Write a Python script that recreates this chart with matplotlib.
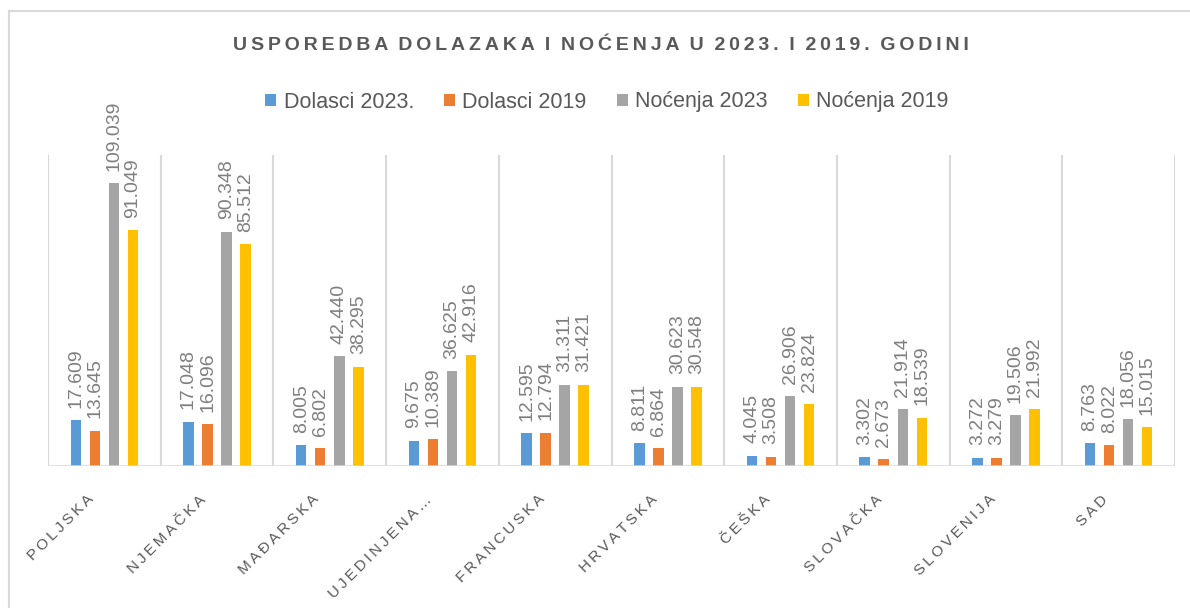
import matplotlib
matplotlib.use("Agg")
import matplotlib.pyplot as plt
import matplotlib.transforms as mtransforms
import numpy as np

# podaci (u tisućama)
drzave = ["POLJSKA", "NJEMAČKA", "MAĐARSKA", "UJEDINJENA…", "FRANCUSKA",
          "HRVATSKA", "ČEŠKA", "SLOVAČKA", "SLOVENIJA", "SAD"]
dolasci_2023 = [17.609, 17.048, 8.005, 9.675, 12.595, 8.811, 4.045, 3.302, 3.272, 8.763]
dolasci_2019 = [13.645, 16.096, 6.802, 10.389, 12.794, 6.864, 3.508, 2.673, 3.279, 8.022]
nocenja_2023 = [109.039, 90.348, 42.440, 36.625, 31.311, 30.623, 26.906, 21.914, 19.506, 18.056]
nocenja_2019 = [91.049, 85.512, 38.295, 42.916, 31.421, 30.548, 23.824, 18.539, 21.992, 15.015]

serije = [dolasci_2023, dolasci_2019, nocenja_2023, nocenja_2019]
nazivi = ["Dolasci 2023.", "Dolasci 2019", "Noćenja 2023", "Noćenja 2019"]
boje = ["#5B9BD5", "#ED7D31", "#A5A5A5", "#FFC000"]

siva = "#595959"
mreza = "#D9D9D9"
font = "Liberation Sans"


def razmak(tekst, sep="\u2009"):
    # razmak izmedu slova kao u Excelu
    return "  ".join(sep.join(rijec) for rijec in tekst.split(" "))


fig = plt.figure(figsize=(11.9, 6.08), dpi=100)
ax = fig.add_axes([48 / 1190, 1 - 466 / 608, 1127 / 1190, 311 / 608])

x = np.arange(len(drzave))
korak = 0.169
sirina = 0.093
for k, (vrijednosti, naziv, boja) in enumerate(zip(serije, nazivi, boje)):
    pos = x + (k - 1.5) * korak
    ax.bar(pos, vrijednosti, width=sirina, color=boja, label=naziv, zorder=3)
    for px, v in zip(pos, vrijednosti):
        ax.annotate(f"{v:.3f}", (px, v), xytext=(0, 9), textcoords="offset points",
                    rotation=90, ha="center", va="bottom", fontsize=14,
                    color="#7F7F7F", family=font, annotation_clip=False)

ax.set_xlim(-0.5, len(drzave) - 0.5)
ax.set_ylim(0, 120)
for g in np.arange(-0.5, len(drzave), 1):
    ax.axvline(g, color=mreza, linewidth=1.5, zorder=1)
ax.axhline(0, color=mreza, linewidth=1.8, zorder=4)
for s in ax.spines.values():
    s.set_visible(False)
ax.set_yticks([])
ax.set_xticks(x)
ax.set_xticklabels([razmak(d) for d in drzave], rotation=45, ha="right",
                   rotation_mode="anchor", fontsize=11, color=siva, family=font)
ax.tick_params(axis="x", length=0, pad=19)
pomak = mtransforms.ScaledTranslation(-18 / 100, 0, fig.dpi_scale_trans)
for lbl in ax.get_xticklabels():
    lbl.set_transform(lbl.get_transform() + pomak)

fig.text(0.505, 1 - 46 / 608, razmak("USPOREDBA DOLAZAKA I NOĆENJA U 2023. I 2019. GODINI"),
         ha="center", va="center", fontsize=14, fontweight="bold", color=siva, family=font)

leg = fig.legend(loc="center", bbox_to_anchor=(0.51, 1 - 102 / 608), ncol=4, frameon=False,
                 handlelength=0.5, handleheight=0.5, handletextpad=0.35,
                 columnspacing=1.4, prop={"family": font, "size": 15.5})
for t in leg.get_texts():
    t.set_color(siva)

# okvir grafikona
fig.add_artist(plt.Line2D([9 / 1190, 9 / 1190], [0, 1 - 11 / 608], transform=fig.transFigure,
                          color=mreza, linewidth=1.5))
fig.add_artist(plt.Line2D([9 / 1190, 1], [1 - 11 / 608, 1 - 11 / 608], transform=fig.transFigure,
                          color=mreza, linewidth=1.5))

fig.savefig("out.png", dpi=100)
